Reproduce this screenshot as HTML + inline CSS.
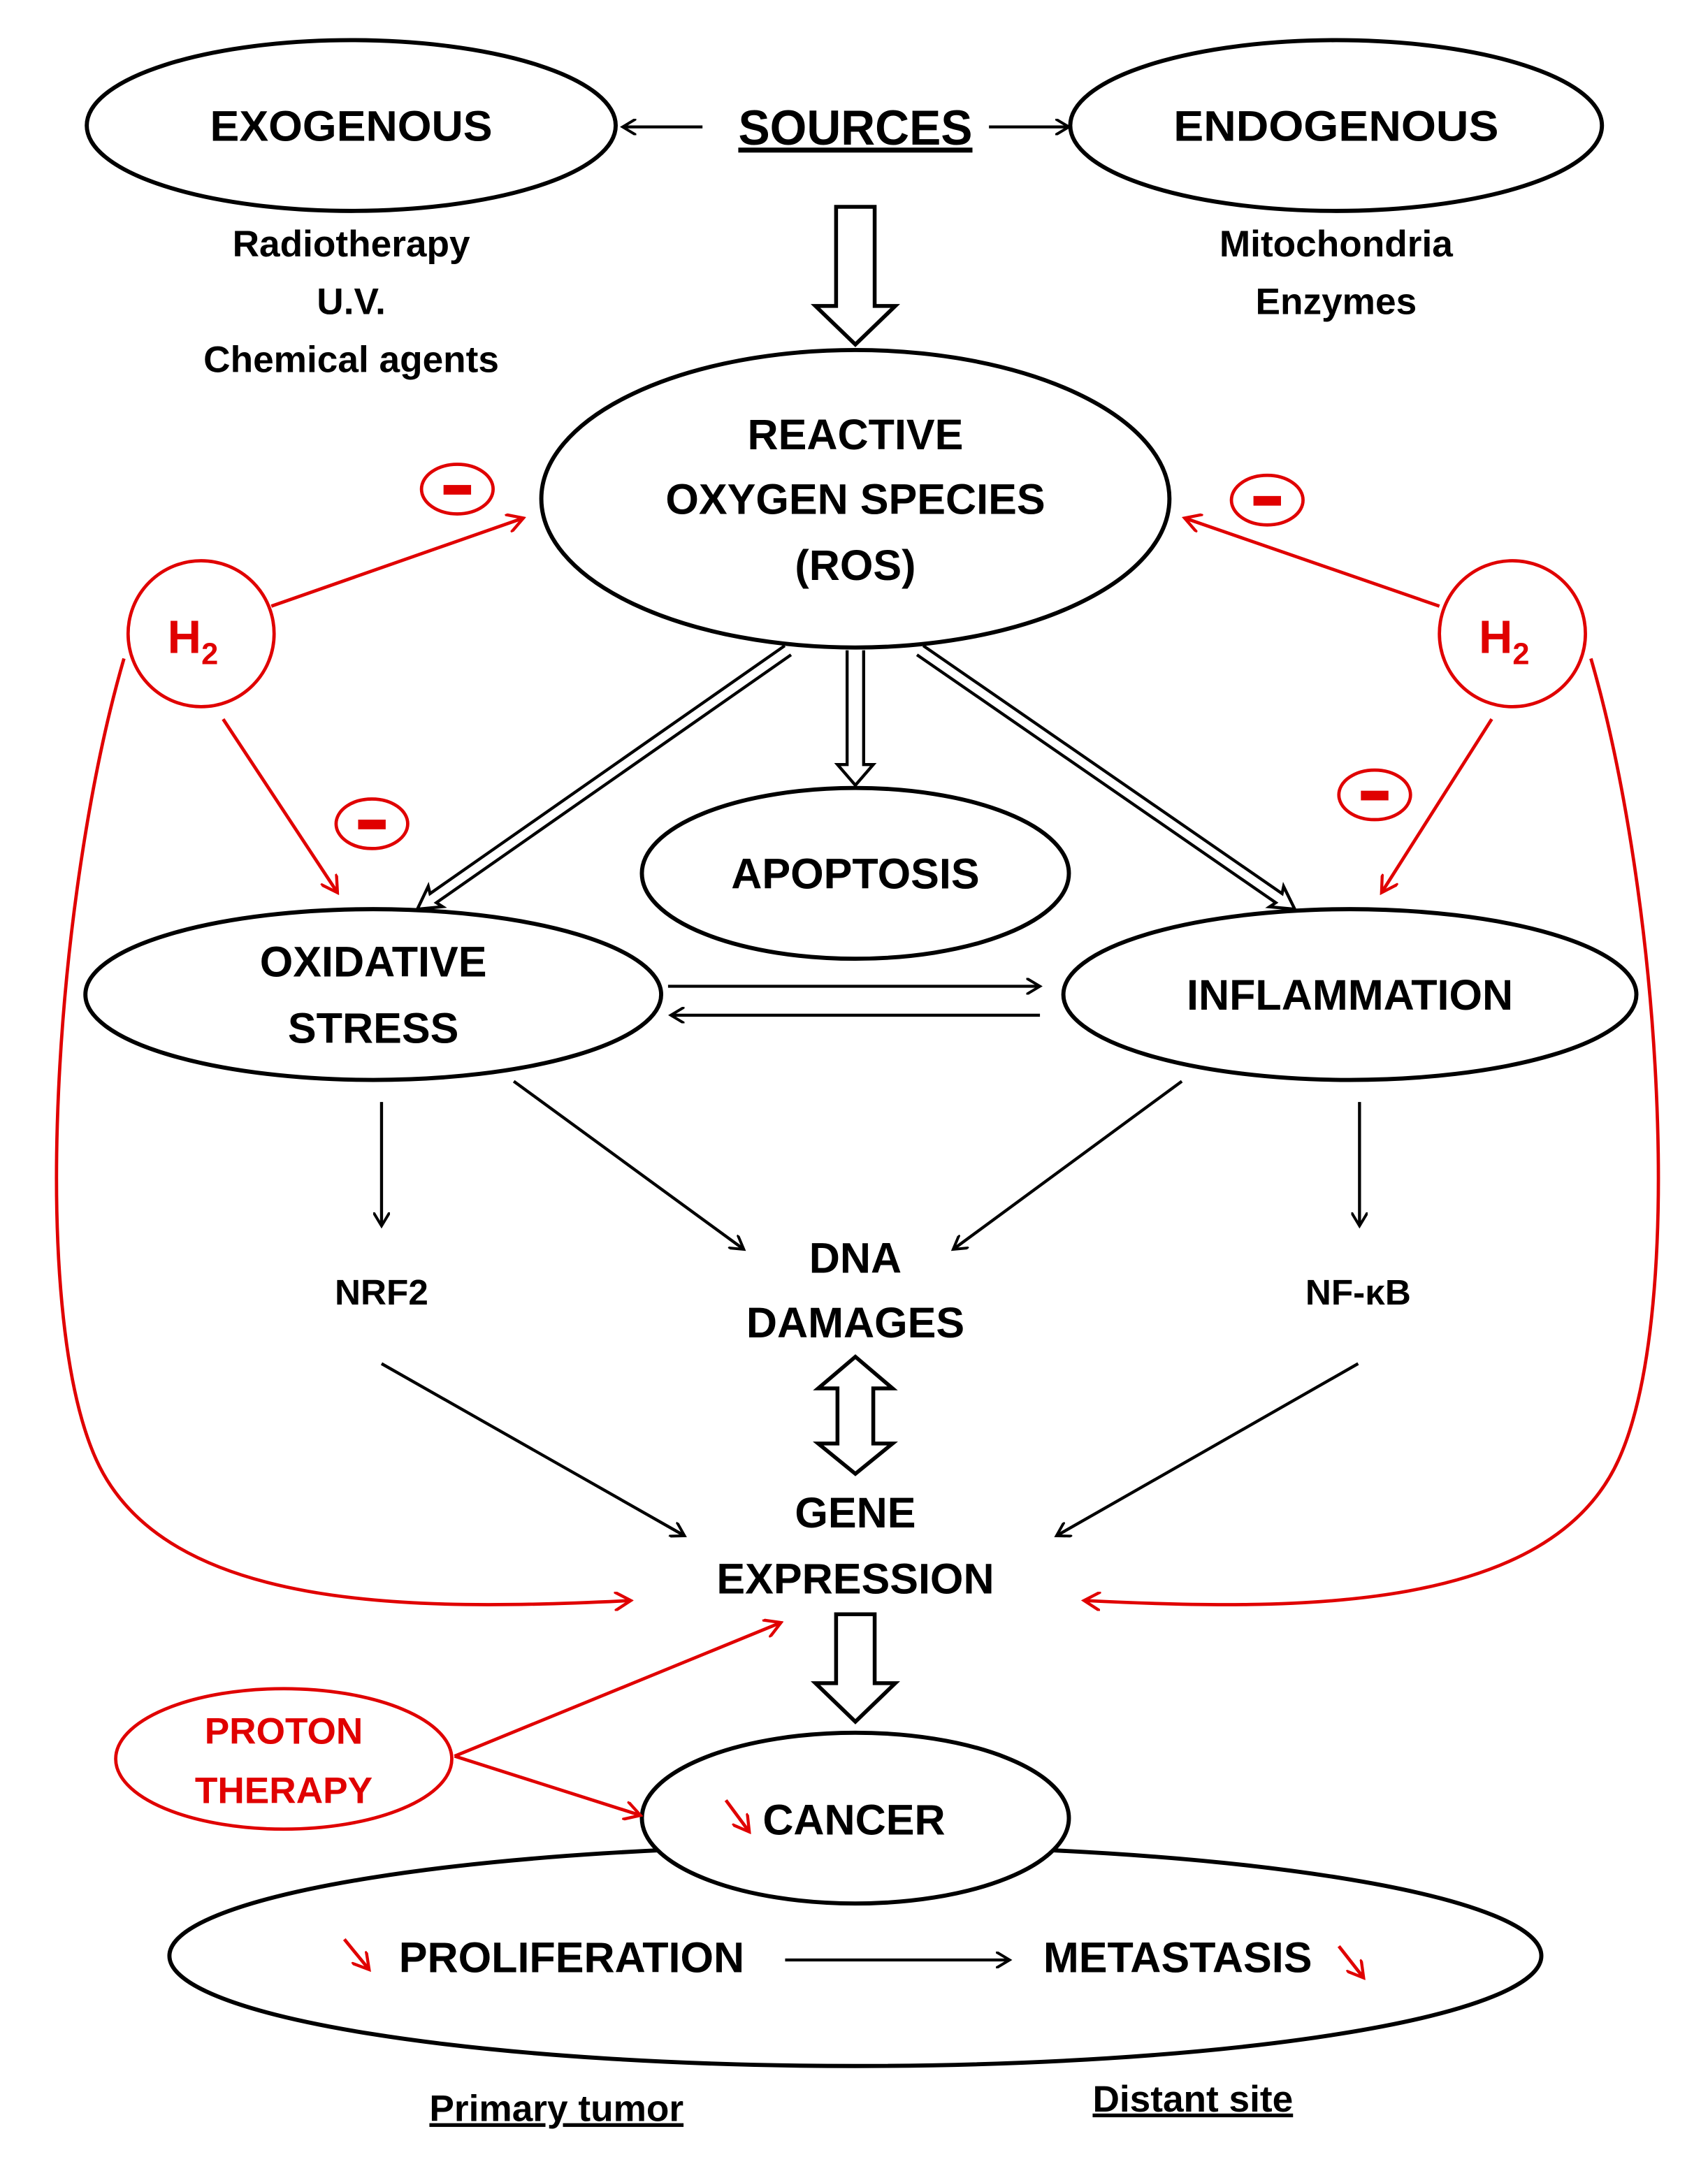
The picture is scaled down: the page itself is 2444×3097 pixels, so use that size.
<!DOCTYPE html>
<html><head><meta charset="utf-8"><style>html,body{margin:0;padding:0;background:#fff}svg{display:block}</style></head>
<body>
<svg width="2444" height="3097" viewBox="0 0 1240 1571" xmlns="http://www.w3.org/2000/svg" font-family="'Liberation Sans', sans-serif" font-weight="bold">
<defs>
<marker id="ab" markerWidth="12" markerHeight="12" refX="10" refY="6" orient="auto" markerUnits="userSpaceOnUse" viewBox="0 0 12 12"><path d="M0,0 L10,6 L0,12" fill="none" stroke="#000" stroke-width="2"/></marker>
<marker id="ar" markerWidth="14" markerHeight="14" refX="12" refY="7" orient="auto" markerUnits="userSpaceOnUse" viewBox="0 0 14 14"><path d="M0,0 L12,7 L0,14" fill="none" stroke="#e00000" stroke-width="2.2"/></marker>
</defs>
<g fill="none" stroke="#000" stroke-width="3">
<ellipse cx="255" cy="91" rx="192" ry="62"/>
<ellipse cx="970" cy="91" rx="193" ry="62"/>
<ellipse cx="621" cy="362" rx="228" ry="108"/>
<ellipse cx="621" cy="634" rx="155" ry="62"/>
<ellipse cx="271" cy="722" rx="209" ry="62"/>
<ellipse cx="980" cy="722" rx="208" ry="62"/>
<ellipse cx="621" cy="1420" rx="498" ry="80"/>
</g>
<ellipse cx="621" cy="1320" rx="155" ry="62" fill="#fff" stroke="#000" stroke-width="3"/>
<g stroke="#000" stroke-width="2.2" fill="none">
<line x1="510" y1="92" x2="452" y2="92" marker-end="url(#ab)"/>
<line x1="718" y1="92" x2="776" y2="92" marker-end="url(#ab)"/>
<line x1="485" y1="716" x2="755" y2="716" marker-end="url(#ab)"/>
<line x1="755" y1="737" x2="487" y2="737" marker-end="url(#ab)"/>
<line x1="277" y1="800" x2="277" y2="890" marker-end="url(#ab)"/>
<line x1="373" y1="785" x2="540" y2="907" marker-end="url(#ab)"/>
<line x1="858" y1="785" x2="692" y2="907" marker-end="url(#ab)"/>
<line x1="987" y1="800" x2="987" y2="890" marker-end="url(#ab)"/>
<line x1="277" y1="990" x2="497" y2="1115" marker-end="url(#ab)"/>
<line x1="986" y1="990" x2="767" y2="1115" marker-end="url(#ab)"/>
<line x1="570" y1="1423" x2="733" y2="1423" marker-end="url(#ab)"/>
<path d="M607,150 H635 V222 H650 L621,250 L592,222 H607 Z" stroke-width="2.8"/>
<path d="M607,1172 H635 V1222 H650 L621,1250 L592,1222 H607 Z" stroke-width="2.8"/>
<path d="M621,985 L648,1008 H634 V1048 H648 L621,1070 L594,1048 H608 V1008 H594 Z" stroke-width="2.8"/>
<path d="M615,472 V555 H608 L621,570 L634,555 H627 V472"/>
<path d="M569.7,468.7 L312.2,648.7 L310.9,643.4 L303,660 L321.3,658.2 L316.8,655.3 L574.3,475.3"/>
<path d="M670.3,468.7 L930.8,648.7 L931.9,643.5 L940,660 L921.7,658.3 L926.2,655.3 L665.7,475.3"/>
</g>
<g stroke="#e00000" stroke-width="2.4" fill="none">
<circle cx="146" cy="460" r="53"/>
<circle cx="1098" cy="460" r="53"/>
<ellipse cx="332" cy="355" rx="26" ry="18"/>
<ellipse cx="920" cy="363" rx="26" ry="18"/>
<ellipse cx="270" cy="598" rx="26" ry="18"/>
<ellipse cx="998" cy="577" rx="26" ry="18"/>
<ellipse cx="206" cy="1277" rx="122" ry="51"/>
<line x1="197" y1="440" x2="380" y2="376" marker-end="url(#ar)"/>
<line x1="1045" y1="440" x2="860" y2="376" marker-end="url(#ar)"/>
<line x1="162" y1="522" x2="245" y2="648" marker-end="url(#ar)"/>
<line x1="1083" y1="522" x2="1003" y2="648" marker-end="url(#ar)"/>
<path d="M90,478 C40,650 20,950 70,1060 C120,1170 300,1170 458,1162" marker-end="url(#ar)"/>
<path d="M1155,478 C1205,650 1225,950 1175,1060 C1125,1170 945,1170 787,1162" marker-end="url(#ar)"/>
<line x1="330" y1="1275" x2="567" y2="1178" marker-end="url(#ar)"/>
<line x1="330" y1="1275" x2="465" y2="1318" marker-end="url(#ar)"/>
<line x1="527" y1="1307" x2="544" y2="1330" marker-end="url(#ar)"/>
<line x1="250" y1="1408" x2="268" y2="1430" marker-end="url(#ar)"/>
<line x1="972" y1="1413" x2="990" y2="1436" marker-end="url(#ar)"/>
</g>
<g fill="#e00000">
<rect x="322" y="352" width="20" height="7"/>
<rect x="910" y="360" width="20" height="7"/>
<rect x="260" y="595" width="20" height="7"/>
<rect x="988" y="574" width="20" height="7"/>
</g>
<g text-anchor="middle" fill="#000" font-size="31">
<text x="255" y="102" textLength="205" lengthAdjust="spacingAndGlyphs">EXOGENOUS</text>
<text x="970" y="102" textLength="236" lengthAdjust="spacingAndGlyphs">ENDOGENOUS</text>
<text x="621" y="105" font-size="36" text-decoration="underline" textLength="170" lengthAdjust="spacingAndGlyphs">SOURCES</text>
<text x="255" y="186" font-size="27">Radiotherapy</text>
<text x="255" y="228" font-size="27">U.V.</text>
<text x="255" y="270" font-size="27">Chemical agents</text>
<text x="970" y="186" font-size="27">Mitochondria</text>
<text x="970" y="228" font-size="27">Enzymes</text>
<text x="621" y="326">REACTIVE</text>
<text x="621" y="373">OXYGEN SPECIES</text>
<text x="621" y="421">(ROS)</text>
<text x="621" y="645">APOPTOSIS</text>
<text x="271" y="709">OXIDATIVE</text>
<text x="271" y="757">STRESS</text>
<text x="980" y="733">INFLAMMATION</text>
<text x="277" y="947" font-size="26">NRF2</text>
<text x="986" y="947" font-size="26">NF-κB</text>
<text x="621" y="924">DNA</text>
<text x="621" y="971">DAMAGES</text>
<text x="621" y="1109">GENE</text>
<text x="621" y="1157">EXPRESSION</text>
<text x="620" y="1332">CANCER</text>
<text x="415" y="1432">PROLIFERATION</text>
<text x="855" y="1432">METASTASIS</text>
<text x="404" y="1540" font-size="27" text-decoration="underline">Primary tumor</text>
<text x="866" y="1533" font-size="27" text-decoration="underline">Distant site</text>
<g fill="#e00000">
<text x="206" y="1266" font-size="27">PROTON</text>
<text x="206" y="1309" font-size="27">THERAPY</text>
<text x="140" y="474" font-size="34">H<tspan font-size="22" dy="8">2</tspan></text>
<text x="1092" y="474" font-size="34">H<tspan font-size="22" dy="8">2</tspan></text>
</g>
</g>
</svg>
</body></html>
